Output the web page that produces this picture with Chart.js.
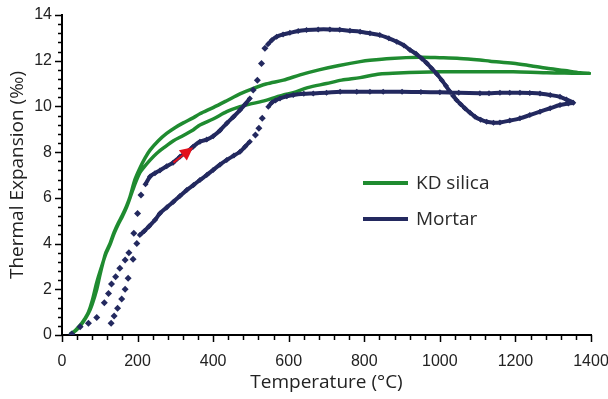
<!DOCTYPE html>
<html lang="en">
<head>
    <meta charset="UTF-8">
    <title>Thermal Expansion</title>
    <script src="https://cdn.jsdelivr.net/npm/chart.js"></script>
    <style>
        html, body { margin: 0; padding: 0; background: #fff; }
        #wrap { width: 608px; height: 399px; }
    </style>
</head>
<body>
<div id="wrap"><canvas id="expansionChart" width="608" height="399"></canvas></div>
<script>
// KD silica - one heating/cooling loop (temperature in °C, expansion in ‰)
const silicaT = [21, 35, 52, 60, 70, 80, 92, 105, 116, 127, 138, 149, 160, 171, 180, 193,
    206, 215, 233, 251, 270, 295, 320, 347, 365, 400, 436, 471, 497, 524, 550, 586, 612, 650, 700, 740,
    789, 841, 890, 947, 1000, 1050, 1106, 1133, 1194, 1240, 1283, 1330, 1371, 1397,
    1371, 1330, 1283, 1240, 1194, 1133, 1106, 1053, 1000, 947, 870, 815, 789, 730, 680, 630, 586, 540,
    500, 471, 436, 400, 365, 347, 321, 300, 277, 255, 233, 220, 206, 193,
    180, 171, 160, 149, 138, 127, 116, 109, 100, 92, 80, 70, 55, 40, 28];
const silicaE = [0.04, 0.2, 0.51, 0.7, 1.0, 1.5, 2.3, 3.0, 3.55, 3.95, 4.45, 4.85, 5.2, 5.6, 6.0, 6.6,
    7.1, 7.3, 7.65, 7.95, 8.2, 8.5, 8.72, 8.97, 9.19, 9.45, 9.77, 9.99, 10.1, 10.2, 10.32, 10.5, 10.6, 10.82, 11.0, 11.15,
    11.26, 11.42, 11.46, 11.5, 11.52, 11.52, 11.52, 11.52, 11.52, 11.5, 11.47, 11.46, 11.45, 11.45,
    11.47, 11.57, 11.67, 11.78, 11.89, 11.98, 12.03, 12.1, 12.13, 12.15, 12.1, 12.02, 11.96, 11.78, 11.6, 11.38, 11.15, 10.98,
    10.75, 10.55, 10.25, 9.95, 9.68, 9.5, 9.28, 9.08, 8.82, 8.5, 8.09, 7.75, 7.3, 6.8,
    6.05, 5.65, 5.25, 4.9, 4.5, 4.0, 3.6, 3.2, 2.6, 2.0, 1.35, 0.95, 0.55, 0.25, 0.08];

// Mortar - runs where the recorder sampled sparsely are kept apart (drawn as points only)
const mortarHeatStartT = [26, 48, 70, 92, 112, 123, 131, 142, 153, 167, 177, 190, 200, 209];
const mortarHeatStartE = [0.04, 0.36, 0.51, 0.77, 1.41, 1.82, 2.23, 2.55, 2.92, 3.28, 3.6, 4.45, 5.32, 6.12];
const mortarHeatT = [221, 233, 246, 259, 277, 294, 312, 330, 347, 365, 383, 400, 418, 436, 454, 471, 485, 497];
const mortarHeatE = [6.6, 6.93, 7.08, 7.2, 7.38, 7.54, 7.8, 8.0, 8.24, 8.46, 8.55, 8.7, 8.95, 9.26, 9.55, 9.84, 10.1, 10.35];
const mortarJumpUpT = [506, 517, 528, 537];
const mortarJumpUpE = [10.72, 11.15, 11.88, 12.54];
const mortarHotT = [545, 555, 568, 585, 603, 625, 647, 678, 709, 735, 762, 789, 815, 841, 865, 886, 905, 921, 937,
    952, 965, 978, 992, 1005, 1016, 1027, 1036, 1044, 1055, 1066, 1080, 1093, 1108, 1124, 1142, 1159, 1185, 1212,
    1238, 1265, 1292, 1318, 1340, 1353,
    1335, 1318, 1292, 1265, 1238, 1212, 1185, 1159, 1130, 1106, 1050, 1000, 950, 900, 850, 815, 780, 736, 700,
    665, 640, 612, 595, 577, 565, 555, 546];
const mortarHotE = [12.72, 12.9, 13.05, 13.15, 13.22, 13.3, 13.34, 13.37, 13.37, 13.35, 13.31, 13.27, 13.2, 13.12, 12.98,
    12.83, 12.67, 12.47, 12.3, 12.1, 11.9, 11.67, 11.42, 11.15, 10.9, 10.64, 10.45, 10.28, 10.1, 9.92, 9.72, 9.55, 9.42,
    9.33, 9.29, 9.3, 9.38, 9.48, 9.62, 9.77, 9.92, 10.06, 10.13, 10.16,
    10.3, 10.42, 10.5, 10.57, 10.59, 10.6, 10.6, 10.6, 10.58, 10.58, 10.6, 10.62, 10.63, 10.64, 10.64, 10.64, 10.64,
    10.64, 10.6, 10.57, 10.55, 10.5, 10.44, 10.35, 10.26, 10.16, 9.99];
const mortarJumpDownT = [530, 521, 512];
const mortarJumpDownE = [9.48, 9.04, 8.75];
const mortarCoolT = [497, 485, 471, 455, 436, 418, 400, 383, 365, 348, 330, 312, 295, 277, 259, 246, 230, 218, 206];
const mortarCoolE = [8.46, 8.25, 8.02, 7.85, 7.66, 7.45, 7.22, 7.0, 6.78, 6.56, 6.34, 6.08, 5.83, 5.58, 5.32, 5.03, 4.75, 4.55, 4.37];
const mortarCoolEndT = [198, 188, 175, 167, 158, 147, 138, 130];
const mortarCoolEndE = [4.0, 3.31, 2.48, 2.0, 1.57, 1.17, 0.83, 0.51];

// heating direction arrow (tail, tip)
const arrowT = [295, 347];
const arrowE = [7.54, 8.21];

const xTicks = [0, 200, 400, 600, 800, 1000, 1200, 1400];
const yTicks = [0, 2, 4, 6, 8, 10, 12, 14];
const seriesNames = ['KD silica', 'Mortar'];

const green = '#1f8b30';
const navy = '#23295f';

const pts = (ts, es) => ts.map((t, i) => ({ x: t, y: es[i] }));

const denseMortar = [
    [mortarHeatT, mortarHeatE],
    [mortarHotT, mortarHotE],
    [mortarCoolT, mortarCoolE]
];
const sparseMortar = [
    [mortarHeatStartT, mortarHeatStartE],
    [mortarJumpUpT, mortarJumpUpE],
    [mortarJumpDownT, mortarJumpDownE],
    [mortarCoolEndT, mortarCoolEndE]
];

const datasets = [];
denseMortar.forEach(([t, e]) => datasets.push({
    data: pts(t, e), showLine: true, borderColor: navy, backgroundColor: navy,
    borderWidth: 4, pointStyle: 'rectRot', pointRadius: 3, pointBorderWidth: 0, tension: 0.3
}));
sparseMortar.forEach(([t, e]) => datasets.push({
    data: pts(t, e), showLine: false, borderColor: navy, backgroundColor: navy,
    pointStyle: 'rectRot', pointRadius: 3.5, pointBorderWidth: 0
}));
datasets.push({
    data: pts(silicaT, silicaE), showLine: true, borderColor: green, backgroundColor: green,
    borderWidth: 3.5, pointRadius: 0, tension: 0.3
});

// minor/major tick marks, heating arrow and the legend
const extras = {
    id: 'extras',
    afterDatasetsDraw(chart) {
        const { ctx, chartArea } = chart;
        const x = chart.scales.x, y = chart.scales.y;
        ctx.save();
        ctx.strokeStyle = '#000';
        ctx.lineWidth = 1.5;
        ctx.beginPath();
        for (let i = 0; i <= 35; i++) {
            const px = Math.round(x.getPixelForValue(i * 40)) + 0.5;
            const len = i % 5 === 0 ? 7 : 5;
            ctx.moveTo(px, chartArea.bottom);
            ctx.lineTo(px, chartArea.bottom + len);
        }
        for (let i = 0; i <= 35; i++) {
            const py = Math.round(y.getPixelForValue(i * 0.4)) + 0.5;
            const len = i % 5 === 0 ? 7 : 4;
            ctx.moveTo(chartArea.left, py);
            ctx.lineTo(chartArea.left - len, py);
        }
        ctx.stroke();

        const x0 = x.getPixelForValue(arrowT[0]), y0 = y.getPixelForValue(arrowE[0]);
        const x1 = x.getPixelForValue(arrowT[1]), y1 = y.getPixelForValue(arrowE[1]);
        const ang = Math.atan2(y1 - y0, x1 - x0);
        const head = 13, half = 6.5;
        const bx = x1 - head * Math.cos(ang), by = y1 - head * Math.sin(ang);
        ctx.strokeStyle = '#e3101b';
        ctx.fillStyle = '#e3101b';
        ctx.lineWidth = 2;
        ctx.beginPath();
        ctx.moveTo(x0, y0);
        ctx.lineTo(bx, by);
        ctx.stroke();
        ctx.beginPath();
        ctx.moveTo(x1, y1);
        ctx.lineTo(bx + half * Math.sin(ang), by - half * Math.cos(ang));
        ctx.lineTo(bx - half * Math.sin(ang), by + half * Math.cos(ang));
        ctx.closePath();
        ctx.fill();

        const colors = [green, navy];
        ctx.lineWidth = 4;
        ctx.font = '19px "Open Sans"';
        ctx.textBaseline = 'middle';
        seriesNames.forEach((name, i) => {
            const ly = 183 + i * 36;
            ctx.strokeStyle = colors[i];
            ctx.beginPath();
            ctx.moveTo(363, ly);
            ctx.lineTo(408, ly);
            ctx.stroke();
            ctx.fillStyle = '#2a2a2a';
            ctx.fillText(name, 416, ly + 1);
        });
        ctx.restore();
    }
};

new Chart(document.getElementById('expansionChart'), {
    type: 'scatter',
    data: { datasets },
    options: {
        responsive: false,
        animation: false,
        layout: { padding: { top: 15, right: 17, left: 0, bottom: 0 } },
        plugins: { legend: { display: false }, tooltip: { enabled: false } },
        scales: {
            x: {
                type: 'linear', min: 0, max: 1400,
                afterFit: s => { s.height = 64; s.paddingLeft = 0; s.paddingRight = 0; },
                afterBuildTicks: s => { s.ticks = xTicks.map(v => ({ value: v })); },
                grid: { display: false, drawTicks: false },
                border: { display: true, color: '#000', width: 2 },
                ticks: { padding: 17, color: '#222', font: { family: 'Liberation Sans', size: 16 },
                    callback: v => String(v) },
                title: { display: true, text: 'Temperature (°C)', color: '#222',
                    font: { family: 'Open Sans', size: 19 }, padding: { top: 0, bottom: 5 } }
            },
            y: {
                type: 'linear', min: 0, max: 14,
                afterFit: s => { s.width = 62; s.paddingTop = 0; s.paddingBottom = 0; },
                afterBuildTicks: s => { s.ticks = yTicks.map(v => ({ value: v })); },
                grid: { display: false, drawTicks: false },
                border: { display: true, color: '#000', width: 2 },
                ticks: { padding: 10, color: '#222', font: { family: 'Liberation Sans', size: 16 },
                    callback: v => String(v) },
                title: { display: true, text: 'Thermal Expansion (‰)', color: '#222',
                    font: { family: 'Open Sans', size: 19 }, padding: { top: 6, bottom: 0 } }
            }
        }
    },
    plugins: [extras]
});
</script>
</body>
</html>
